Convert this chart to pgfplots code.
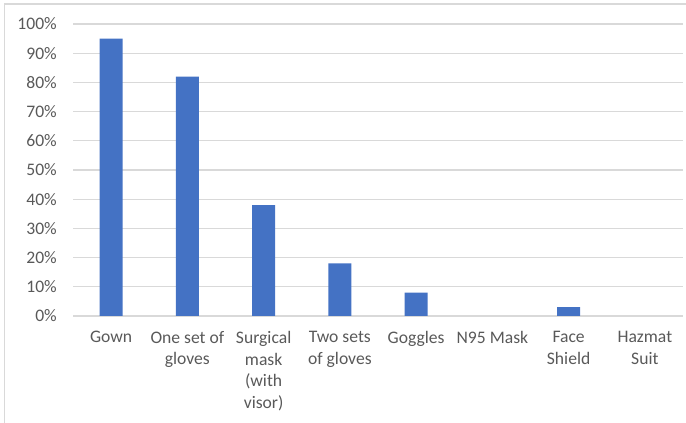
\documentclass[border=0pt]{standalone}
\usepackage{pgfplots}
\pgfplotsset{compat=1.18}
\usepackage{fontspec}
\setmainfont{Carlito}
\definecolor{barblue}{HTML}{4472C4}
\definecolor{gridgray}{HTML}{D9D9D9}
\definecolor{labelgray}{HTML}{595959}
\begin{document}
\begin{tikzpicture}
\useasboundingbox (0,0) rectangle (686bp,423bp);
% chart frame: only the top and left edges are visible
\draw[gridgray, line width=1.2bp] (4.5bp,0) -- (4.5bp,419bp) -- (686bp,419bp);
\begin{axis}[
    at={(73bp,107bp)},
    anchor=south west,
    scale only axis,
    width=610bp,
    height=292bp,
    xmin=-0.5, xmax=7.5,
    ymin=0, ymax=100,
    xtick={0,...,7},
    xticklabels={Gown, {One set of\\gloves}, {Surgical\\mask\\(with\\visor)}, {Two sets\\of gloves}, Goggles, N95 Mask, {Face\\Shield}, {Hazmat\\Suit}},
    ytick={0,10,...,100},
    yticklabel={\pgfmathprintnumber{\tick}\%},
    /pgf/number format/assume math mode=true,
    major tick length=0pt,
    axis line style={draw=none},
    ymajorgrids=true,
    grid style={gridgray, line width=1.2bp},
    ticklabel style={font=\fontsize{17.6bp}{21.7bp}\selectfont, text=labelgray},
    yticklabel style={anchor=east, inner sep=0pt, xshift=-16bp},
    xticklabel style={anchor=north, inner sep=0pt, yshift=-15bp, align=center},
    ybar,
    bar width=23bp,
    bar shift=0pt,
]
\addplot[fill=barblue, draw=none] coordinates {
    (0,95) (1,82) (2,38) (3,18) (4,8) (5,0) (6,3) (7,0)
};
\end{axis}
\end{tikzpicture}
\end{document}
